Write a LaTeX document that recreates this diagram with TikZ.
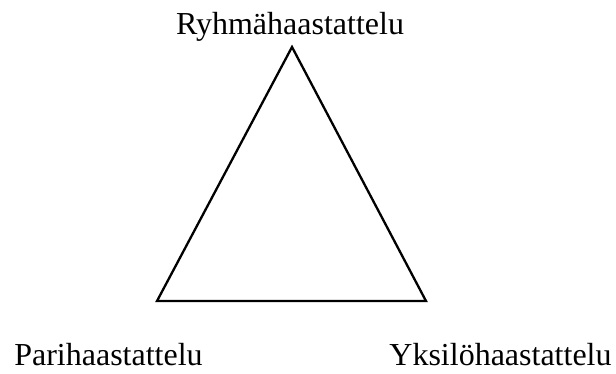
\documentclass[tikz,border=0pt]{standalone}
\usepackage{fontspec}
\setmainfont{Liberation Serif}
\begin{document}
\begin{tikzpicture}[x=1pt,y=-1pt,
  lbl/.style={anchor=base,inner sep=0pt,font=\fontsize{32}{38}\selectfont},
  edge/.style={line width=2.3pt,line join=miter}]
\useasboundingbox (0,0) rectangle (616,373);
\coordinate (top) at (292,47);
\coordinate (bl) at (157,301);
\coordinate (br) at (426,301);
\draw[edge] (top) -- (bl) -- (br) -- cycle;
\node[lbl] (t1) at (290,34) {Ryhmähaastattelu};
\node[lbl] (t2) at (108.5,365) {Parihaastattelu};
\node[lbl] (t3) at (500.5,365) {Yksilöhaastattelu};
\end{tikzpicture}
\end{document}
